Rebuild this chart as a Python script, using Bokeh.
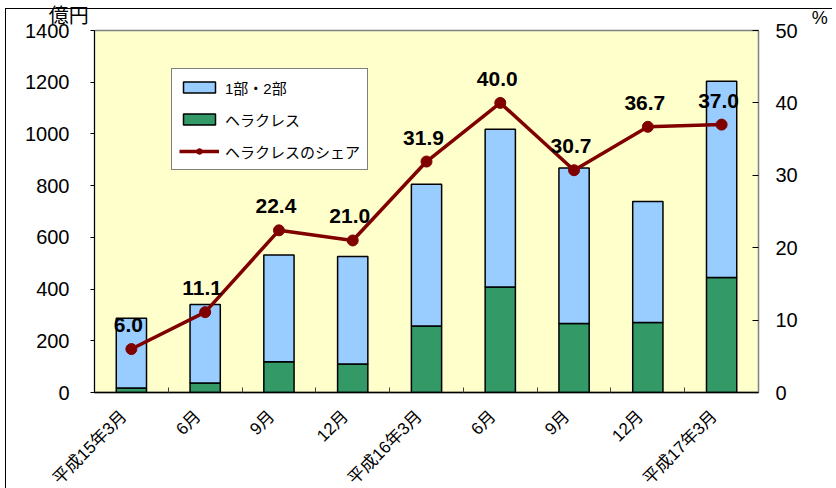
import math
from bokeh.plotting import figure
from bokeh.models import (ColumnDataSource, Range1d, LinearAxis, FixedTicker,
                          Legend, LegendItem, Label)
from bokeh.embed import file_html
from bokeh.resources import INLINE
from bokeh.core.properties import value

# ---- data ----
periods = ["平成15年3月", "6月", "9月", "12月", "平成16年3月", "6月", "9月", "12月", "平成17年3月"]
main_boards = [270, 303, 413, 416, 548, 610, 601, 468, 759]      # 1部・2部 (億円)
hercules = [17, 37, 119, 110, 257, 408, 267, 271, 445]           # ヘラクレス (億円)
hercules_share = [6.0, 11.1, 22.4, 21.0, 31.9, 40.0, 30.7, 36.7, 37.0]  # %
yen_ticks = [0, 200, 400, 600, 800, 1000, 1200, 1400]
share_ticks = [0, 10, 20, 30, 40, 50]

FONT = "'Liberation Sans', 'Noto Sans CJK JP', sans-serif"

n = len(periods)
x = [i + 0.5 for i in range(n)]
total = [a + b for a, b in zip(main_boards, hercules)]
src = ColumnDataSource(dict(
    x=x, main=main_boards, herc=hercules, total=total,
    share=hercules_share, share_lbl=[f"{v:.1f}" for v in hercules_share],
))

p = figure(frame_width=664, frame_height=362,
           min_border_left=89, min_border_right=74, min_border_top=30, min_border_bottom=90,
           x_range=Range1d(0, n), y_range=Range1d(yen_ticks[0], yen_ticks[-1]),
           output_backend="svg", toolbar_location=None,
           background_fill_color="#FFFFCC", border_fill_color="white", border_fill_alpha=0)
p.extra_y_ranges = {"share": Range1d(share_ticks[0], share_ticks[-1])}
p.grid.visible = False
p.outline_line_color = "#808080"
p.outline_line_width = 1.5
p.margin = (0, 0, 0, 5)
# outer chart border (left and top edges) drawn beneath the transparent canvas
p.styles = {
    "background-color": "white",
    "background-image": "linear-gradient(#000, #000), linear-gradient(#000, #000)",
    "background-size": "100% 1px, 1px 100%",
    "background-position": "0 8px, 0 8px",
    "background-repeat": "no-repeat",
}

# bars
herc_r = p.vbar(x="x", bottom=0, top="herc", width=0.41, source=src,
                fill_color="#339966", line_color="black", line_width=1.5)
main_r = p.vbar(x="x", bottom="herc", top="total", width=0.41, source=src,
                fill_color="#99CCFF", line_color="black", line_width=1.5)

# share line
line_r = p.line(x="x", y="share", source=src, y_range_name="share",
                line_color="#800000", line_width=3.5)
dot_r = p.scatter(x="x", y="share", source=src, y_range_name="share",
                  size=11, fill_color="#800000", line_color="#800000")
p.text(x="x", y="share", text="share_lbl", source=src, y_range_name="share",
       text_font=value(FONT), text_font_size="21px", text_font_style="bold",
       text_color="black", text_align="center", text_baseline="alphabetic",
       x_offset=-3, y_offset=-24)

# left axis
ya = p.yaxis[0]
ya.ticker = FixedTicker(ticks=yen_ticks)
ya.major_tick_out = 4
ya.major_tick_in = 0
ya.minor_tick_out = 0
ya.minor_tick_in = 0
ya.axis_line_color = "black"
ya.major_tick_line_color = "black"
ya.major_label_text_font = FONT
ya.major_label_text_font_size = "20px"
ya.major_label_text_color = "black"
ya.major_label_standoff = 21

# right axis
ra = LinearAxis(y_range_name="share", ticker=FixedTicker(ticks=share_ticks))
ra.major_tick_in = 6
ra.major_tick_out = 0
ra.minor_tick_in = 0
ra.minor_tick_out = 0
ra.axis_line_color = "#808080"
ra.major_tick_line_color = "black"
ra.major_label_text_font = FONT
ra.major_label_text_font_size = "20px"
ra.major_label_text_color = "black"
ra.major_label_standoff = 17
p.add_layout(ra, "right")

# bottom axis: labels anchored slightly left of each category centre,
# boundary ticks between categories
label_pos = [xi - 0.1 for xi in x]
xa = p.xaxis[0]
xa.ticker = FixedTicker(ticks=label_pos, minor_ticks=list(range(1, n)))
xa.major_label_overrides = {xi: lbl for xi, lbl in zip(label_pos, periods)}
xa.major_tick_in = 0
xa.major_tick_out = 0
xa.minor_tick_in = 5
xa.minor_tick_out = 0
xa.minor_tick_line_color = "#404040"
xa.axis_line_color = "black"
xa.axis_line_width = 1.5
xa.major_label_orientation = math.pi / 4
xa.major_label_text_font = FONT
xa.major_label_text_font_size = "17px"
xa.major_label_text_color = "black"
xa.major_label_standoff = 21

# unit labels (placed in side panels so they are not clipped to the frame)
p.add_layout(Label(x=-0.35, y=1456, text="億円", text_align="center", text_baseline="middle",
                   text_font=FONT, text_font_size="20px", text_color="black",
                   text_line_height=1.0), "above")
p.add_layout(Label(x=9.83, y=51.7, y_range_name="share", text="%", text_align="center",
                   text_baseline="middle", text_font=FONT, text_font_size="18px",
                   text_color="black", text_line_height=1.0), "right")

legend = Legend(items=[
    LegendItem(label="1部・2部", renderers=[main_r]),
    LegendItem(label="ヘラクレス", renderers=[herc_r]),
    LegendItem(label="ヘラクレスのシェア", renderers=[line_r, dot_r]),
], location=(77, 222))
legend.border_line_color = "black"
legend.border_line_width = 1
legend.background_fill_color = "white"
legend.background_fill_alpha = 1
legend.padding = 7
legend.spacing = 10
legend.margin = 0
legend.glyph_width = 40
legend.glyph_height = 14
legend.label_height = 22
legend.label_standoff = 6
legend.label_text_font = FONT
legend.label_text_font_size = "15px"
legend.label_text_color = "black"
p.add_layout(legend, "center")

open("out.html", "w").write(file_html(p, INLINE))
